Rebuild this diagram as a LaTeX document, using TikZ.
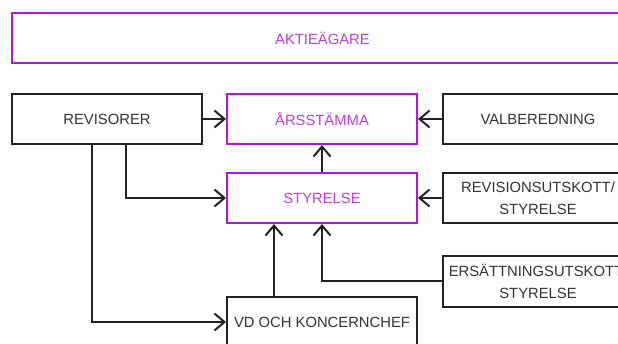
\documentclass[tikz,border=0pt]{standalone}
\usepackage{fontspec}
\setmainfont{Liberation Sans}
\usepackage{xcolor}
\usetikzlibrary{arrows.meta}
\usetikzlibrary{positioning}

\definecolor{lila}{HTML}{B414DC}
\definecolor{lilatext}{HTML}{BE3CE0}
\definecolor{mork}{HTML}{222222}
\definecolor{morktext}{HTML}{333333}

\tikzset{
  ruta/.style={draw=mork, line width=2pt, minimum width=190pt, minimum height=50pt,
    inner xsep=0pt, align=center, text=morktext,
    font=\fontsize{14.8}{21.5}\selectfont},
  lilaruta/.style={ruta, draw=lila, text=lilatext},
}

\begin{document}
\begin{tikzpicture}[x=1pt, y=-1pt, line width=2pt, draw=mork,
    >={Straight Barb[length=10pt,width=17pt]}]
  \useasboundingbox (0,0) rectangle (618,344);
  \clip (0,0) rectangle (618,344);

  \node[lilaruta, minimum width=621pt] (aktie) at (322.5, 38) {AKTIEÄGARE};

  \node[ruta] (revisorer) at (107, 119) {REVISORER};
  \node[lilaruta] (stamma) at (322, 119) {ÅRSSTÄMMA};
  \node[ruta] (valb) at (538, 119) {VALBEREDNING};

  \node[lilaruta] (styrelse) at (322, 198) {STYRELSE};
  \node[ruta] (revutsk) at (538, 198) {REVISIONSUTSKOTT/\\STYRELSE};
  \node[ruta, minimum height=51pt] (ersutsk) at (538, 281.5) {ERSÄTTNINGSUTSKOTT/\\STYRELSE};

  \node[ruta] (vd) at (322, 322) {VD OCH KONCERNCHEF};

  % pilar
  \draw[->, mork] (revisorer.east) -- (stamma.west);
  \draw[->, mork] (valb.west) -- (stamma.east);
  \draw[->, mork] (styrelse.north) -- (stamma.south);
  \draw[->, mork] (revutsk.west) -- (styrelse.east);
  \draw[->, mork] ([xshift=19pt]revisorer.south) |- (styrelse.west);
  \draw[->, mork] ([xshift=-15pt]revisorer.south) |- (vd.west);
  \draw[->, mork] ([xshift=-48pt]vd.north) -- ([xshift=-48pt]styrelse.south);
  \draw[->, mork] (ersutsk.west) -| (styrelse.south);
\end{tikzpicture}
\end{document}
